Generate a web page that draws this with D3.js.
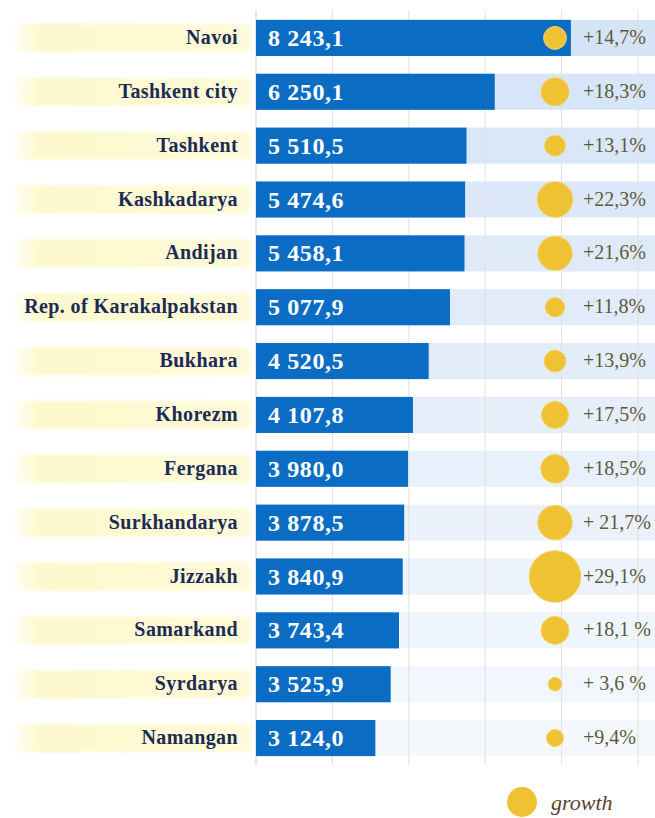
<!DOCTYPE html>
<html>
<head>
<meta charset="utf-8">
<script src="https://cdn.jsdelivr.net/npm/d3@7"></script>
<style>
  body { margin: 0; background: #fff; }
  svg { display: block; }
  .serif { font-family: "Liberation Serif", "Tinos", "Noto Serif", "DejaVu Serif", "Times New Roman", serif; }
</style>
</head>
<body>
<svg id="chart"></svg>
<script>
// data
const regions = ["Navoi", "Tashkent city", "Tashkent", "Kashkadarya", "Andijan", "Rep. of Karakalpakstan",
  "Bukhara", "Khorezm", "Fergana", "Surkhandarya", "Jizzakh", "Samarkand", "Syrdarya", "Namangan"];
const values = [8243.1, 6250.1, 5510.5, 5474.6, 5458.1, 5077.9, 4520.5, 4107.8, 3980.0, 3878.5, 3840.9, 3743.4, 3525.9, 3124.0];
const growth = [14.7, 18.3, 13.1, 22.3, 21.6, 11.8, 13.9, 17.5, 18.5, 21.7, 29.1, 18.1, 3.6, 9.4];
const growthLabels = ["+14,7%", "+18,3%", "+13,1%", "+22,3%", "+21,6%", "+11,8%", "+13,9%", "+17,5%",
  "+18,5%", "+ 21,7%", "+29,1%", "+18,1 %", "+ 3,6 %", "+9,4%"];
const legendLabel = "growth";

const width = 655, height = 818;
const rows = regions.map((r, i) => ({ name: r, value: values[i], growth: growth[i], label: growthLabels[i], i }));

const svg = d3.select("#chart").attr("width", width).attr("height", height);

const x = d3.scaleLinear().domain([0, 10000]).range([256, 638]);
const y = d3.scaleBand().domain(regions).range([11, 765]).paddingInner(0.33).paddingOuter(0.165);
const r = d3.scalePow().exponent(2).domain([0, 30]).range([6.5, 27]);
const fade = d3.scaleLinear().domain([0, regions.length - 1]).range([0.95, 0.25]);

const loc = d3.formatLocale({ decimal: ",", thousands: " ", grouping: [3], currency: ["", ""] });
const fmt = loc.format(",.1f");

const defs = svg.append("defs");
const grad = defs.append("linearGradient").attr("id", "yellowFade");
grad.append("stop").attr("offset", "0%").attr("stop-color", "#fdf8cc").attr("stop-opacity", 0);
grad.append("stop").attr("offset", "12%").attr("stop-color", "#fdf8cc").attr("stop-opacity", 1);
grad.append("stop").attr("offset", "100%").attr("stop-color", "#fefad8").attr("stop-opacity", 1);
defs.append("filter").attr("id", "soft")
  .append("feGaussianBlur").attr("stdDeviation", 1.5);

// light blue row strips
svg.append("g").selectAll("rect")
  .data(rows)
  .join("rect")
  .attr("x", x(0))
  .attr("y", d => y(d.name))
  .attr("width", width - x(0))
  .attr("height", y.bandwidth())
  .attr("fill", "#d3e2f7")
  .attr("opacity", d => fade(d.i));

// yellow label strips
svg.append("g").selectAll("rect")
  .data(rows)
  .join("rect")
  .attr("x", 10)
  .attr("y", d => y(d.name) + 4)
  .attr("width", 240)
  .attr("height", y.bandwidth() - 8)
  .attr("fill", "url(#yellowFade)")
  .attr("filter", "url(#soft)");

// grid lines
svg.append("g").selectAll("line")
  .data(x.ticks(5))
  .join("line")
  .attr("x1", d => x(d)).attr("x2", d => x(d))
  .attr("y1", 10).attr("y2", 765)
  .attr("stroke", d => d === 0 ? "#cfd3d8" : "#e2e0dc")
  .attr("stroke-width", 1);

// bars
svg.append("g").selectAll("rect")
  .data(rows)
  .join("rect")
  .attr("x", x(0))
  .attr("y", d => y(d.name))
  .attr("width", d => x(d.value) - x(0))
  .attr("height", y.bandwidth())
  .attr("fill", "#0b6cc3");

svg.append("g").selectAll("text")
  .data(rows)
  .join("text")
  .attr("class", "serif")
  .attr("x", x(0) + 12)
  .attr("y", d => y(d.name) + y.bandwidth() / 2 + 8)
  .attr("fill", "#fff")
  .attr("font-weight", "bold")
  .attr("font-size", 24)
  .attr("letter-spacing", 0.6)
  .text(d => fmt(d.value));

// region labels
svg.append("g").selectAll("text")
  .data(rows)
  .join("text")
  .attr("class", "serif")
  .attr("x", 238)
  .attr("y", d => y(d.name) + y.bandwidth() / 2 + 6)
  .attr("text-anchor", "end")
  .attr("fill", "#1c2b55")
  .attr("font-weight", "bold")
  .attr("font-size", 20)
  .attr("letter-spacing", 0.4)
  .text(d => d.name);

// growth circles
svg.append("g").selectAll("circle")
  .data(rows)
  .join("circle")
  .attr("cx", 555)
  .attr("cy", d => y(d.name) + y.bandwidth() / 2)
  .attr("r", d => r(d.growth))
  .attr("fill", "#eec232")
  .attr("stroke", "#f3d36a")
  .attr("stroke-width", 1);

svg.append("g").selectAll("text")
  .data(rows)
  .join("text")
  .attr("class", "serif")
  .attr("x", 583)
  .attr("y", d => y(d.name) + y.bandwidth() / 2 + 6)
  .attr("fill", "#5c5a3c")
  .attr("font-size", 20)
  .text(d => d.label);

// legend
svg.append("circle")
  .attr("cx", 522).attr("cy", 802).attr("r", 15)
  .attr("fill", "#eec232");
svg.append("text")
  .attr("class", "serif")
  .attr("x", 551).attr("y", 810)
  .attr("fill", "#5b3f30")
  .attr("font-style", "italic")
  .attr("font-size", 22)
  .text(legendLabel);
</script>
</body>
</html>
